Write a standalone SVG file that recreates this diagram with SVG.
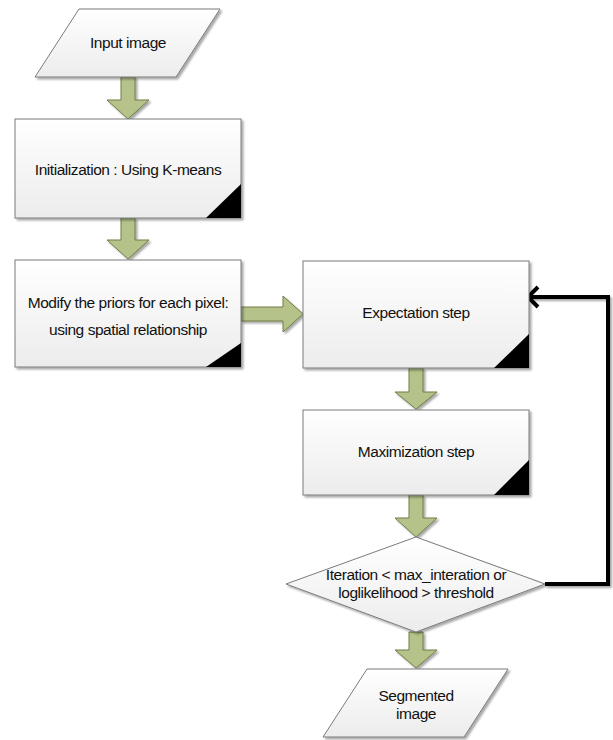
<svg xmlns="http://www.w3.org/2000/svg" width="613" height="740" viewBox="0 0 613 740">
<style>
.node{fill:url(#g);stroke:#7a7a7a;stroke-width:1;filter:url(#sh)}
.corner{fill:#000}
.arr{fill:#b5c38a;stroke:#6e7d44;stroke-width:1;filter:url(#sh)}
.t{font-family:"Liberation Sans",Arial,sans-serif;font-size:15.5px;fill:#111;text-anchor:middle;letter-spacing:-0.45px}
.fb{fill:none;stroke:#000;stroke-width:4;filter:url(#sh)}
</style>
<defs>
<linearGradient id="g" x1="0" y1="0" x2="0" y2="1">
<stop offset="0" stop-color="#ffffff"/>
<stop offset="1" stop-color="#ececec"/>
</linearGradient>
<filter id="sh" x="-10%" y="-10%" width="130%" height="130%">
<feGaussianBlur in="SourceAlpha" stdDeviation="0.8"/>
<feOffset dx="2" dy="2" result="b"/>
<feComponentTransfer><feFuncA type="linear" slope="0.35"/></feComponentTransfer>
<feMerge><feMergeNode/><feMergeNode in="SourceGraphic"/></feMerge>
</filter>
</defs>

<g id="connectors">
<polygon class="arr" points="121,77 135,77 135,100 149,100 128,119 107,100 121,100"/>
<polygon class="arr" points="121,218 135,218 135,240 149,240 128,259 107,240 121,240"/>
<polygon class="arr" points="241,307 283,307 283,296 303,314 283,332 283,321 241,321"/>
<polygon class="arr" points="409,368 423,368 423,392 437,392 416,409 395,392 409,392"/>
<polygon class="arr" points="409,495 423,495 423,518 437,518 416,537 395,518 409,518"/>
<polygon class="arr" points="409,632 423,632 423,650 437,650 416,668 395,650 409,650"/>
<polyline class="fb" points="545,584 608,584 608,297 530,297"/>
<polyline fill="none" stroke="#000" stroke-width="4" stroke-linejoin="miter" points="538,287 528,297 538,307"/>
</g>

<g id="input">
<polygon class="node" points="79,9 220,9 176,77 35,77"/>
<text class="t" x="128" y="48">Input image</text>
</g>

<g id="init">
<rect class="node" x="15" y="119" width="226" height="99"/>
<polygon class="corner" points="241,184 241,218 206,218"/>
<text class="t" x="128" y="175">Initialization : Using K-means</text>
</g>

<g id="modify">
<rect class="node" x="15" y="260" width="226" height="107"/>
<polygon class="corner" points="241,343 241,367 206,367"/>
<text class="t" x="128" y="308">Modify the priors for each pixel:</text>
<text class="t" x="128" y="335">using spatial relationship</text>
</g>

<g id="expectation">
<rect class="node" x="303" y="261" width="226" height="107"/>
<polygon class="corner" points="529,334 529,368 494,368"/>
<text class="t" x="416" y="318">Expectation step</text>
</g>

<g id="maximization">
<rect class="node" x="303" y="410" width="226" height="85"/>
<polygon class="corner" points="529,460 529,495 494,495"/>
<text class="t" x="416" y="457">Maximization step</text>
</g>

<g id="decision">
<polygon class="node" points="416,537 545,584 416,632 286,584"/>
<text class="t" x="416" y="580">Iteration &lt; max_interation or</text>
<text class="t" x="416" y="598">loglikelihood &gt; threshold</text>
</g>

<g id="output">
<polygon class="node" points="367,669 508,669 464,737 323,737"/>
<text class="t" x="416" y="701">Segmented</text>
<text class="t" x="416" y="719">image</text>
</g>
</svg>
